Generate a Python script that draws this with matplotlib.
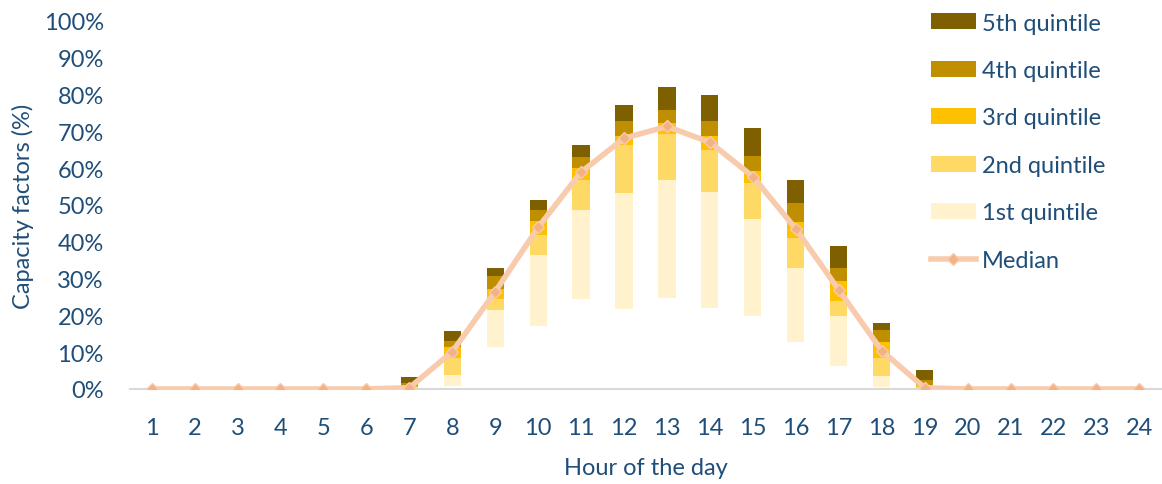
import matplotlib
matplotlib.use("Agg")
import matplotlib.pyplot as plt
import numpy as np

hours = list(range(1, 25))
# boundaries of quintile bands (% capacity factor)
q_bottom = [0]*6 + [0.0, 0.9, 11.5, 17.2, 24.5, 21.7, 24.7, 22.0, 19.9, 12.7, 6.1, 0.6, 0.0] + [0]*5
q1_top   = [0]*6 + [0.2, 3.8, 21.5, 36.5, 48.6, 53.2, 56.8, 53.4, 46.2, 32.9, 19.7, 3.6, 0.2] + [0]*5
q2_top   = [0]*6 + [0.5, 8.4, 24.5, 41.7, 56.8, 66.4, 69.3, 64.9, 55.9, 41.0, 23.8, 8.4, 0.5] + [0]*5
q3_top   = [0]*6 + [0.9, 11.3, 27.2, 45.6, 60.0, 68.8, 72.2, 68.8, 59.1, 45.3, 29.3, 12.7, 1.1] + [0]*5
q4_top   = [0]*6 + [1.5, 13.0, 30.8, 48.6, 63.1, 72.7, 75.8, 72.7, 63.4, 50.5, 32.9, 16.0, 2.4] + [0]*5
q5_top   = [0]*6 + [3.2, 15.7, 32.9, 51.4, 66.2, 77.1, 81.9, 79.9, 70.9, 56.8, 38.7, 17.8, 5.2] + [0]*5
median   = [0]*6 + [0.3, 10.1, 26.4, 43.9, 58.9, 68.1, 71.3, 67.0, 57.7, 43.5, 26.9, 10.4, 0.3] + [0]*5

labels = ["1st quintile", "2nd quintile", "3rd quintile", "4th quintile", "5th quintile"]
colors = ["#FFF2CC", "#FFD966", "#FFC000", "#BF8F00", "#7F6000"]
text_color = "#1F4E79"
fs = 17

plt.rcParams['font.family'] = ['Lato', 'DejaVu Sans']

fig = plt.figure(figsize=(11.62, 4.85), dpi=100)
ax = fig.add_axes([0.112, 0.196, 0.887, 0.759])

x = np.array(hours)
bounds = [np.array(b, dtype=float) for b in (q_bottom, q1_top, q2_top, q3_top, q4_top, q5_top)]
handles = {}
for i in range(5):
    h = ax.bar(x, bounds[i+1] - bounds[i], bottom=bounds[i], width=0.4,
               color=colors[i], label=labels[i], zorder=2)
    handles[labels[i]] = h

ln, = ax.plot(x, median, color="#F8CBAD", lw=4, marker="D", markersize=6,
              markerfacecolor="#F4B183", markeredgecolor="#F8CBAD", zorder=3, label="Median")
handles["Median"] = ln

ax.set_xlim(0.5, 24.5)
ax.set_ylim(0, 100)
ax.set_yticks(np.arange(0, 101, 10))
ax.set_yticklabels([f"{v}%" for v in range(0, 101, 10)])
ax.set_xticks(hours)
ax.set_xticklabels([str(h) for h in hours])
ax.tick_params(axis='both', length=0, labelsize=fs, colors=text_color)
ax.tick_params(axis='x', pad=20)
ax.tick_params(axis='y', pad=19)
for s in ["top", "right", "left"]:
    ax.spines[s].set_visible(False)
ax.spines["bottom"].set_color("#D9D9D9")
ax.spines["bottom"].set_linewidth(1.5)

ax.set_xlabel("Hour of the day", fontsize=fs, color=text_color, labelpad=14)
ax.set_ylabel("Capacity factors (%)", fontsize=fs, color=text_color, labelpad=7)

order = ["5th quintile", "4th quintile", "3rd quintile", "2nd quintile", "1st quintile", "Median"]
leg = fig.legend([handles[k] for k in order], order, loc="upper left",
                 bbox_to_anchor=(0.801, 0.972), frameon=False, fontsize=fs,
                 borderpad=0, borderaxespad=0,
                 labelspacing=1.12, handlelength=1.9, handleheight=0.65, handletextpad=0.25)
for t in leg.get_texts():
    t.set_color(text_color)

fig.savefig("out.png", dpi=100)
